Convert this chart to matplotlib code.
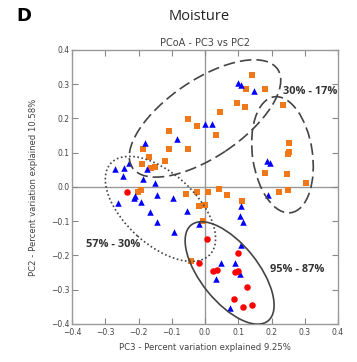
import matplotlib
matplotlib.use("Agg")
import matplotlib.pyplot as plt
from matplotlib.patches import Ellipse

# PCoA coordinates (PC3, PC2) per group
orange_x = [0.140, 0.123, 0.181, 0.095, 0.120, 0.235, 0.045, -0.052, -0.023, 0.034,
            -0.109, -0.186, -0.109, -0.052, -0.168, -0.120, -0.189, -0.162, -0.150,
            0.252, 0.252, 0.249, 0.181, 0.248, 0.303, 0.223, 0.250, -0.201, -0.192,
            -0.057, -0.023, 0.010, 0.043, 0.065, 0.112, -0.018, 0.000, -0.005, -0.042]
orange_y = [0.326, 0.287, 0.287, 0.246, 0.234, 0.239, 0.220, 0.198, 0.179, 0.153,
            0.164, 0.110, 0.110, 0.112, 0.087, 0.076, 0.067, 0.055, 0.059,
            0.128, 0.103, 0.096, 0.042, 0.039, 0.012, -0.015, -0.010, -0.014, -0.009,
            -0.021, -0.015, -0.014, -0.005, -0.024, -0.041, -0.055, -0.053, -0.098, -0.215]

blue_x = [0.100, 0.107, 0.147, 0.001, 0.021, -0.085, -0.180, -0.228, -0.270, -0.245,
          -0.175, -0.247, -0.186, -0.149, -0.210, -0.214, -0.144, -0.097, -0.262, -0.192,
          -0.165, -0.053, -0.145, -0.019, -0.093, 0.187, 0.195, 0.189, 0.108, 0.105,
          0.113, 0.108, 0.047, 0.089, 0.105, 0.032, 0.075]
blue_y = [0.303, 0.297, 0.280, 0.184, 0.184, 0.139, 0.128, 0.069, 0.053, 0.055,
          0.052, 0.032, 0.022, 0.011, -0.026, -0.032, -0.023, -0.033, -0.046, -0.044,
          -0.073, -0.069, -0.102, -0.108, -0.131, 0.077, 0.069, -0.022, -0.055, -0.085,
          -0.101, -0.169, -0.221, -0.221, -0.254, -0.269, -0.352]

red_x = [-0.234, 0.007, 0.098, -0.018, 0.025, 0.035, 0.090, 0.100, 0.125, 0.086, 0.113, 0.141]
red_y = [-0.015, -0.152, -0.194, -0.223, -0.245, -0.242, -0.247, -0.245, -0.293, -0.326, -0.351, -0.344]

# confidence ellipses: center, width, height, angle, linestyle
ellipses = [
    ((0.000, 0.200), 0.523, 0.227, 33, (0, (7, 3))),
    ((0.233, 0.094), 0.180, 0.342, 8.7, (0, (7, 3))),
    ((-0.134, -0.064), 0.400, 0.210, -41, (0, (1, 1.5))),
    ((0.074, -0.251), 0.363, 0.171, -50, "-"),
]
labels = [("30% - 17%", 0.235, 0.28), ("57% - 30%", -0.357, -0.169), ("95% - 87%", 0.195, -0.242)]

ticks = [-0.4, -0.3, -0.2, -0.1, 0.0, 0.1, 0.2, 0.3, 0.4]

fig = plt.figure(figsize=(3.57, 3.62), dpi=100)
ax = fig.add_axes([0.2017, 0.105, 0.7451, 0.757])

ax.axhline(0, color="#999999", lw=1.0, zorder=1)
ax.axvline(0, color="#999999", lw=1.0, zorder=1)

ax.scatter(orange_x, orange_y, marker="s", s=15, color="#f07818", linewidths=0, zorder=3)
ax.scatter(blue_x, blue_y, marker="^", s=22, color="#0000ff", linewidths=0, zorder=3)
ax.scatter(red_x, red_y, marker="o", s=22, color="#ff0000", linewidths=0, zorder=3)

for (c, w, h, ang, ls) in ellipses:
    ax.add_patch(Ellipse(c, w, h, angle=ang, fill=False, edgecolor="#444444",
                         lw=1.2, linestyle=ls, zorder=4))

for txt, x, y in labels:
    ax.text(x, y, txt, fontsize=7.9, color="#333333", fontweight="bold",
            va="center", ha="left", family="Open Sans", zorder=5)

ax.set_xlim(-0.4, 0.4)
ax.set_ylim(-0.4, 0.4)
ax.set_xticks(ticks)
ax.set_yticks(ticks)
ax.tick_params(direction="in", top=True, right=True, length=4, width=0.8,
               color="#888888", labelcolor="#444444", labelsize=5.5)
ax.tick_params(axis="x", pad=3)
ax.tick_params(axis="y", pad=2)
for sp in ax.spines.values():
    sp.set_color("#999999")
    sp.set_linewidth(1.0)

ax.set_title("PCoA - PC3 vs PC2", fontsize=7, color="#444444", pad=3)
ax.set_xlabel("PC3 - Percent variation explained 9.25%", fontsize=6.1, color="#444444", labelpad=4)
ax.set_ylabel("PC2 - Percent variation explained 10.58%", fontsize=6.1, color="#444444", labelpad=9)

fig.text(0.557, 0.955, "Moisture", fontsize=10.5, ha="center", va="center", family="Open Sans", color="#222222")
fig.text(0.068, 0.955, "D", fontsize=13, fontweight="bold", ha="center", va="center")

fig.savefig("out.png", dpi=100)
